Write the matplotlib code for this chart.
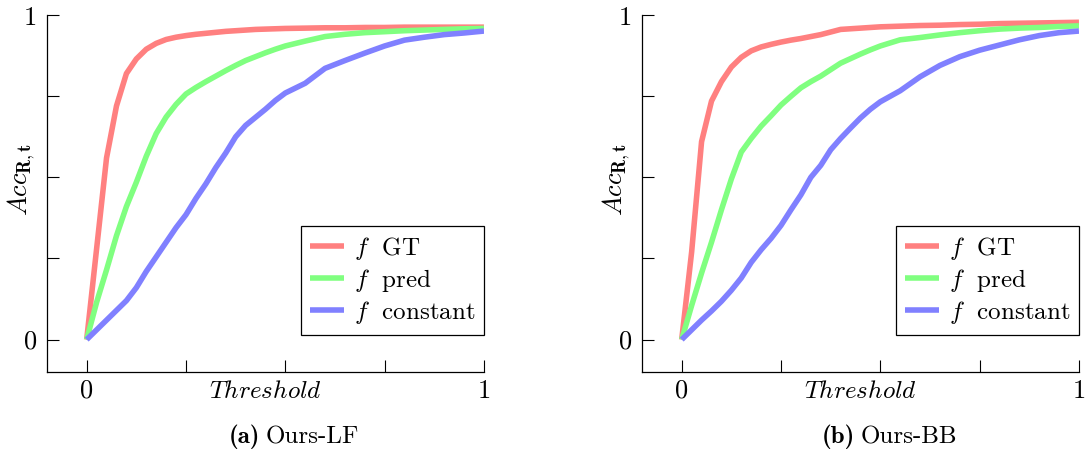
from matplotlib import pyplot as plt

# Threshold values shared by every curve
thresholds = [0, 0.025, 0.05, 0.075, 0.1, 0.125, 0.15, 0.175, 0.2, 0.225, 0.25, 0.275, 0.3,
              0.325, 0.35, 0.375, 0.4, 0.425, 0.45, 0.475, 0.5, 0.55, 0.6, 0.65, 0.7, 0.75,
              0.8, 0.85, 0.9, 0.95, 1.0]

# (a) Ours-LF
lf_gt = [0, 0.28, 0.56, 0.72, 0.82, 0.865, 0.895, 0.913, 0.925, 0.932, 0.937, 0.941, 0.944,
         0.947, 0.95, 0.952, 0.954, 0.956, 0.957, 0.958, 0.959, 0.96, 0.961, 0.961, 0.962,
         0.962, 0.963, 0.963, 0.963, 0.963, 0.963]
lf_pred = [0, 0.115, 0.215, 0.32, 0.41, 0.485, 0.565, 0.635, 0.686, 0.725, 0.757, 0.777, 0.795,
           0.812, 0.829, 0.845, 0.86, 0.872, 0.884, 0.895, 0.905, 0.92, 0.934, 0.941, 0.946,
           0.949, 0.952, 0.954, 0.956, 0.958, 0.959]
lf_const = [0, 0.03, 0.06, 0.09, 0.12, 0.16, 0.21, 0.255, 0.30, 0.345, 0.385, 0.435, 0.48,
            0.53, 0.575, 0.625, 0.66, 0.685, 0.71, 0.737, 0.76, 0.79, 0.836, 0.86, 0.883,
            0.905, 0.923, 0.932, 0.94, 0.945, 0.951]

# (b) Ours-BB
bb_gt = [0, 0.27, 0.61, 0.735, 0.795, 0.84, 0.87, 0.89, 0.902, 0.91, 0.917, 0.923, 0.928,
         0.934, 0.94, 0.948, 0.956, 0.958, 0.96, 0.962, 0.964, 0.966, 0.968, 0.969, 0.971,
         0.972, 0.974, 0.975, 0.976, 0.977, 0.978]
bb_pred = [0, 0.105, 0.205, 0.30, 0.40, 0.495, 0.578, 0.62, 0.658, 0.69, 0.723, 0.75, 0.776,
           0.795, 0.812, 0.832, 0.852, 0.866, 0.88, 0.893, 0.905, 0.924, 0.931, 0.939, 0.946,
           0.952, 0.957, 0.96, 0.962, 0.965, 0.967]
bb_const = [0, 0.03, 0.06, 0.088, 0.118, 0.152, 0.19, 0.238, 0.277, 0.312, 0.352, 0.40, 0.446,
            0.50, 0.537, 0.585, 0.62, 0.652, 0.683, 0.71, 0.733, 0.767, 0.81, 0.845, 0.872,
            0.892, 0.908, 0.924, 0.937, 0.946, 0.951]

legends = [r'$f\ $ GT', r'$f\ $ pred', r'$f\ $ constant']
captions = [('(a)', 'Ours-LF'), ('(b)', 'Ours-BB')]
colors = ['#ff8080', '#80ff80', '#8080ff']

# LaTeX-like look
plt.rcParams['font.family'] = 'serif'
plt.rcParams['font.serif'] = ['cmr10']
plt.rcParams['mathtext.fontset'] = 'cm'

fig = plt.figure(figsize=(10.87, 4.59), dpi=100)
panels = [(0.0432, [lf_gt, lf_pred, lf_const]), (0.5906, [bb_gt, bb_pred, bb_const])]

for i, (left, series) in enumerate(panels):
    ax = fig.add_axes([left, 0.1895, 0.402, 0.7775])
    for values, color, label in zip(series, colors, legends):
        ax.plot(thresholds, values, color=color, lw=4, label=label, solid_capstyle='butt')

    ax.set_xlim(-0.1, 1.0)
    ax.set_ylim(-0.1, 1.0)
    ax.spines['top'].set_visible(False)
    ax.spines['right'].set_visible(False)
    for s in ['left', 'bottom']:
        ax.spines[s].set_linewidth(0.9)

    ax.set_xticks([0, 0.25, 0.5, 0.75, 1.0])
    ax.set_xticklabels(['0', '', '', '', '1'])
    ax.set_yticks([0, 0.25, 0.5, 0.75, 1.0])
    ax.set_yticklabels(['0', '', '', '', '1'])
    ax.tick_params(direction='in', length=8.5, width=0.8, labelsize=19)
    ax.tick_params(axis='x', pad=5)
    ax.tick_params(axis='y', pad=7)

    ax.set_xlabel('$Threshold$', fontsize=18)
    ax.xaxis.set_label_coords(0.5, -0.025)
    ax.set_ylabel(r'$Acc_{\mathbf{R},\mathbf{t}}$', fontsize=19)
    ax.yaxis.set_label_coords(-0.022, 0.54)

    leg = ax.legend(loc='lower right', bbox_to_anchor=(1.0, 0.104), borderaxespad=0,
                    fontsize=18, fancybox=False, framealpha=1, edgecolor='black',
                    handlelength=1.35, handletextpad=0.4, labelspacing=0.2, borderpad=0.35)
    leg.get_frame().set_linewidth(0.9)

    # caption: bold label followed by the method name
    cx = left + 0.201
    fig.text(cx - 0.005, 0.048, captions[i][0], ha='right', va='center', fontsize=18,
             family='cmb10')
    fig.text(cx, 0.048, captions[i][1], ha='left', va='center', fontsize=18)

plt.savefig('out.png', dpi=100)
